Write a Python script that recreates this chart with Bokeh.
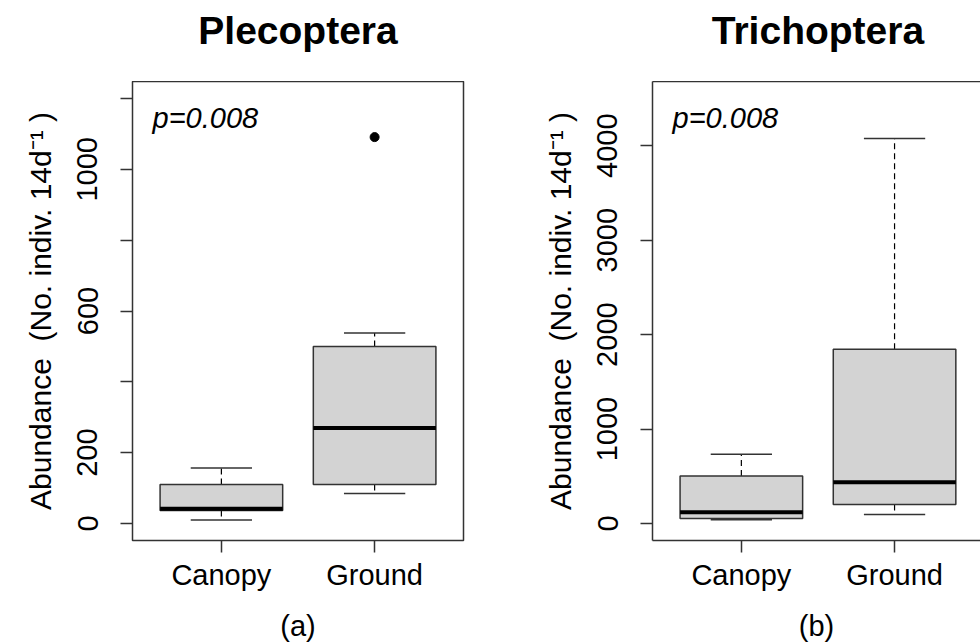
from bokeh.plotting import figure
from bokeh.layouts import row, column
from bokeh.models import FixedTicker, Label, LinearAxis, Range1d
from bokeh.embed import file_html
from bokeh.resources import INLINE

# ---------------- data ----------------
categories = ["Canopy", "Ground"]

pleco_lower = [10, 85]
pleco_q1 = [37, 110]
pleco_median = [42, 270]
pleco_q3 = [110, 500]
pleco_upper = [157, 538]
pleco_outlier_group = ["Ground"]
pleco_outlier_value = [1091]
pleco_yticks = [0, 200, 400, 600, 800, 1000, 1200]
pleco_ytick_labels = ["0", "200", "", "600", "", "1000", ""]

tricho_lower = [39, 95]
tricho_q1 = [53, 200]
tricho_median = [119, 438]
tricho_q3 = [504, 1846]
tricho_upper = [732, 4077]
tricho_outlier_group = []
tricho_outlier_value = []
tricho_yticks = [0, 1000, 2000, 3000, 4000]
tricho_ytick_labels = ["0", "1000", "2000", "3000", "4000"]

titles = ["Plecoptera", "Trichoptera"]
tags = ["(a)", "(b)"]
p_texts = ["p=0.008", "p=0.008"]
ylabel = "Abundance\u00a0\u00a0(No. indiv. 14d\u207b\u00b9\u00a0)"

FONT = "Liberation Sans"
EDGE = "#333333"
TOP_H = 81


def make_title(title, width, x_end, mb_left, mb_right):
    t = figure(width=width, height=TOP_H, output_backend="svg", toolbar_location=None,
               x_range=Range1d(0.42, x_end), y_range=Range1d(0, 1),
               x_axis_type=None, y_axis_type=None,
               min_border_left=mb_left, min_border_right=mb_right,
               min_border_top=0, min_border_bottom=0,
               background_fill_color="white", border_fill_color="white")
    t.outline_line_color = None
    t.xgrid.visible = False
    t.ygrid.visible = False
    t.add_layout(Label(x=1.5, y=51, x_units="data", y_units="screen", text=title,
                       text_align="center", text_baseline="alphabetic", text_font=FONT,
                       text_font_size="39px", text_font_style="bold", text_color="black"))
    return t


def make_panel(tag, ptxt, lower, q1, med, q3, upper, out_g, out_v,
               yticks, ylabels, y_start, y_end, width, x_end, mb_left, mb_right, full_box):
    p = figure(width=width, height=644 - TOP_H, output_backend="svg", toolbar_location=None,
               x_range=Range1d(0.42, x_end), y_range=Range1d(y_start, y_end),
               min_border_left=mb_left, min_border_right=mb_right,
               min_border_top=0, min_border_bottom=101,
               background_fill_color="white", border_fill_color="white")
    p.xgrid.visible = False
    p.ygrid.visible = False
    if full_box:
        p.outline_line_color = EDGE
        p.outline_line_width = 1.5
        p.outline_line_alpha = 1
    else:
        p.outline_line_color = None

    xs = [categories.index(c) + 1 for c in categories]
    bw = 0.4
    cw = 0.2
    # whiskers
    p.segment(x0=xs, y0=q3, x1=xs, y1=upper, line_color="black", line_width=1.2, line_dash="6 4")
    p.segment(x0=xs, y0=q1, x1=xs, y1=lower, line_color="black", line_width=1.2, line_dash="6 4")
    # caps
    p.segment(x0=[x - cw for x in xs], y0=upper, x1=[x + cw for x in xs], y1=upper,
              line_color=EDGE, line_width=1.5)
    p.segment(x0=[x - cw for x in xs], y0=lower, x1=[x + cw for x in xs], y1=lower,
              line_color=EDGE, line_width=1.5)
    # boxes
    p.quad(left=[x - bw for x in xs], right=[x + bw for x in xs], bottom=q1, top=q3,
           fill_color="#D3D3D3", line_color=EDGE, line_width=1.5)
    # medians
    p.segment(x0=[x - bw for x in xs], y0=med, x1=[x + bw for x in xs], y1=med,
              line_color="black", line_width=4, line_cap="butt")
    # outliers
    if out_g:
        p.scatter(x=[categories.index(g) + 1 for g in out_g], y=out_v, size=9,
                  fill_color="black", line_color="black")

    # axes styling
    for ax in (p.xaxis[0], p.yaxis[0]):
        ax.major_tick_out = 12
        ax.major_tick_in = 0
        ax.minor_tick_line_color = None
        ax.major_tick_line_color = EDGE
        ax.major_tick_line_width = 1.5
        ax.major_label_text_font = FONT
        ax.major_label_text_font_size = "29px"
        ax.major_label_text_color = "black"
        ax.axis_line_color = None if full_box else EDGE
        ax.axis_line_width = 1.5

    p.xaxis.ticker = FixedTicker(ticks=xs)
    p.xaxis.major_label_overrides = {x: c for x, c in zip(xs, categories)}
    p.xaxis.major_label_standoff = 6
    p.xaxis.axis_label = tag
    p.xaxis.axis_label_text_font = FONT
    p.xaxis.axis_label_text_font_size = "29px"
    p.xaxis.axis_label_text_font_style = "normal"
    p.xaxis.axis_label_text_color = "black"
    p.xaxis.axis_label_standoff = 16

    p.yaxis.ticker = FixedTicker(ticks=yticks)
    p.yaxis.major_label_overrides = {t: l for t, l in zip(yticks, ylabels)}
    p.yaxis.major_label_orientation = "vertical"
    p.yaxis.major_label_standoff = 23
    p.yaxis.axis_label = ylabel
    p.yaxis.axis_label_text_font = FONT
    p.yaxis.axis_label_text_font_size = "30px"
    p.yaxis.axis_label_text_font_style = "normal"
    p.yaxis.axis_label_text_color = "black"
    p.yaxis.axis_label_standoff = 18

    # top edge line (same panel size on both figures)
    top = LinearAxis(ticker=FixedTicker(ticks=[]),
                     axis_line_color=None if full_box else EDGE, axis_line_width=1.5,
                     major_tick_line_color=None, minor_tick_line_color=None,
                     major_tick_out=0, major_tick_in=0, major_label_standoff=0,
                     major_label_text_font_size="0px")
    p.add_layout(top, "above")

    p.add_layout(Label(x=20, y=423, x_units="screen", y_units="screen", text=ptxt,
                       text_align="left", text_baseline="alphabetic", text_font=FONT,
                       text_font_size="29px", text_font_style="italic", text_color="black"))
    return p


t1 = make_title(titles[0], 528, 2.58, 132, 65)
t2 = make_title(titles[1], 452, 2.561, 124, 0)
p1 = make_panel(tags[0], p_texts[0], pleco_lower, pleco_q1, pleco_median, pleco_q3,
                pleco_upper, pleco_outlier_group, pleco_outlier_value, pleco_yticks,
                pleco_ytick_labels, -48, 1248, 528, 2.58, 132, 65, True)
p2 = make_panel(tags[1], p_texts[1], tricho_lower, tricho_q1, tricho_median, tricho_q3,
                tricho_upper, tricho_outlier_group, tricho_outlier_value, tricho_yticks,
                tricho_ytick_labels, -180, 4680, 452, 2.561, 124, 0, False)

layout = column(row(t1, t2), row(p1, p2))
open("out.html", "w").write(file_html(layout, INLINE))
